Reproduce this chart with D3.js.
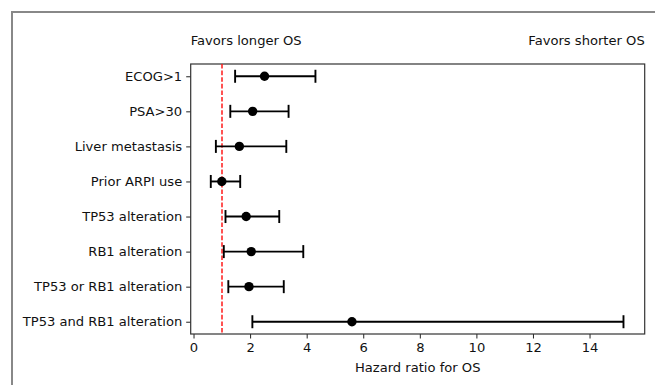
<!DOCTYPE html>
<html>
<head>
<meta charset="utf-8">
<script src="https://cdn.jsdelivr.net/npm/d3@7"></script>
<style>
  body { margin: 0; background: #fff; }
  svg { display: block; font-family: "DejaVu Sans", sans-serif; }
</style>
</head>
<body>
<div id="chart"></div>
<script>
// hazard ratios for OS
var factors = ["ECOG>1", "PSA>30", "Liver metastasis", "Prior ARPI use",
               "TP53 alteration", "RB1 alteration", "TP53 or RB1 alteration",
               "TP53 and RB1 alteration"];
var hr    = [2.51, 2.09, 1.62, 1.00, 1.86, 2.04, 1.96, 5.60];
var lower = [1.47, 1.30, 0.79, 0.61, 1.13, 1.07, 1.23, 2.08];
var upper = [4.31, 3.36, 3.28, 1.65, 3.03, 3.88, 3.19, 15.20];
var xTicks = [0, 2, 4, 6, 8, 10, 12, 14];

var width = 655, height = 385,
    margin = {top: 64, right: 10.3, bottom: 51, left: 190.7};
var w = width - margin.left - margin.right,
    h = height - margin.top - margin.bottom;
var fontSize = "13.1px";

var svg = d3.select("#chart").append("svg")
    .attr("width", width)
    .attr("height", height);

// outer frame (only left and top edges visible)
svg.append("rect")
    .attr("x", 12).attr("y", 12)
    .attr("width", 700).attr("height", 400)
    .attr("fill", "none")
    .attr("stroke", "#888")
    .attr("stroke-width", 2);

var g = svg.append("g")
    .attr("transform", `translate(${margin.left},${margin.top})`);

var x = d3.scaleLinear().domain([-0.1, 15.95]).range([0, w]);
var y = d3.scaleLinear().domain([-0.35, 7.35]).range([0, h]);

var rows = factors.map((f, i) => ({name: f, hr: hr[i], lo: lower[i], hi: upper[i], pos: i}));

// axes
var xAxis = d3.axisBottom(x).tickValues(xTicks).tickSizeOuter(0).tickSize(4.5).tickPadding(4);
var yAxis = d3.axisLeft(y).tickValues(d3.range(factors.length))
    .tickFormat(i => factors[i]).tickSizeOuter(0).tickSize(4.5).tickPadding(4);

var gx = g.append("g")
    .attr("transform", `translate(0,${h})`)
    .call(xAxis);
var gy = g.append("g").call(yAxis);

[gx, gy].forEach(a => {
  a.select(".domain").remove();
  a.selectAll("text").style("font-size", fontSize).attr("fill", "#111");
  a.selectAll("line").attr("stroke", "#222").attr("stroke-width", 1);
  a.style("font-family", "DejaVu Sans, sans-serif");
});

// plot frame
g.append("rect")
    .attr("width", w).attr("height", h)
    .attr("fill", "none")
    .attr("stroke", "#333")
    .attr("stroke-width", 1.2);

// reference line at HR = 1 (snapped to the pixel grid so it stays bright)
var refX = Math.round(margin.left + x(1)) - margin.left;
g.append("line")
    .attr("x1", refX).attr("x2", refX)
    .attr("y1", 0).attr("y2", h)
    .attr("stroke", "#ff1a1a")
    .attr("stroke-width", 1.5)
    .attr("stroke-dasharray", "4.6,2");

// error bars
var bar = g.selectAll(".row")
    .data(rows)
    .enter().append("g")
    .attr("class", "row");

bar.append("line")
    .attr("x1", d => x(d.lo)).attr("x2", d => x(d.hi))
    .attr("y1", d => y(d.pos)).attr("y2", d => y(d.pos))
    .attr("stroke", "#000").attr("stroke-width", 1.9);

bar.selectAll(".cap")
    .data(d => [{v: d.lo, pos: d.pos}, {v: d.hi, pos: d.pos}])
    .enter().append("line")
    .attr("class", "cap")
    .attr("x1", d => x(d.v)).attr("x2", d => x(d.v))
    .attr("y1", d => y(d.pos) - 6.5).attr("y2", d => y(d.pos) + 6.5)
    .attr("stroke", "#000").attr("stroke-width", 1.9);

bar.append("circle")
    .attr("cx", d => x(d.hr))
    .attr("cy", d => y(d.pos))
    .attr("r", 4.7)
    .attr("fill", "#000");

// labels
g.append("text")
    .attr("x", w / 2).attr("y", h + 38)
    .attr("text-anchor", "middle")
    .style("font-size", fontSize)
    .attr("fill", "#111")
    .text("Hazard ratio for OS");

g.append("text")
    .attr("x", 0).attr("y", -19)
    .attr("text-anchor", "start")
    .style("font-size", fontSize)
    .attr("fill", "#111")
    .text("Favors longer OS");

g.append("text")
    .attr("x", w).attr("y", -19)
    .attr("text-anchor", "end")
    .style("font-size", fontSize)
    .attr("fill", "#111")
    .text("Favors shorter OS");
</script>
</body>
</html>
